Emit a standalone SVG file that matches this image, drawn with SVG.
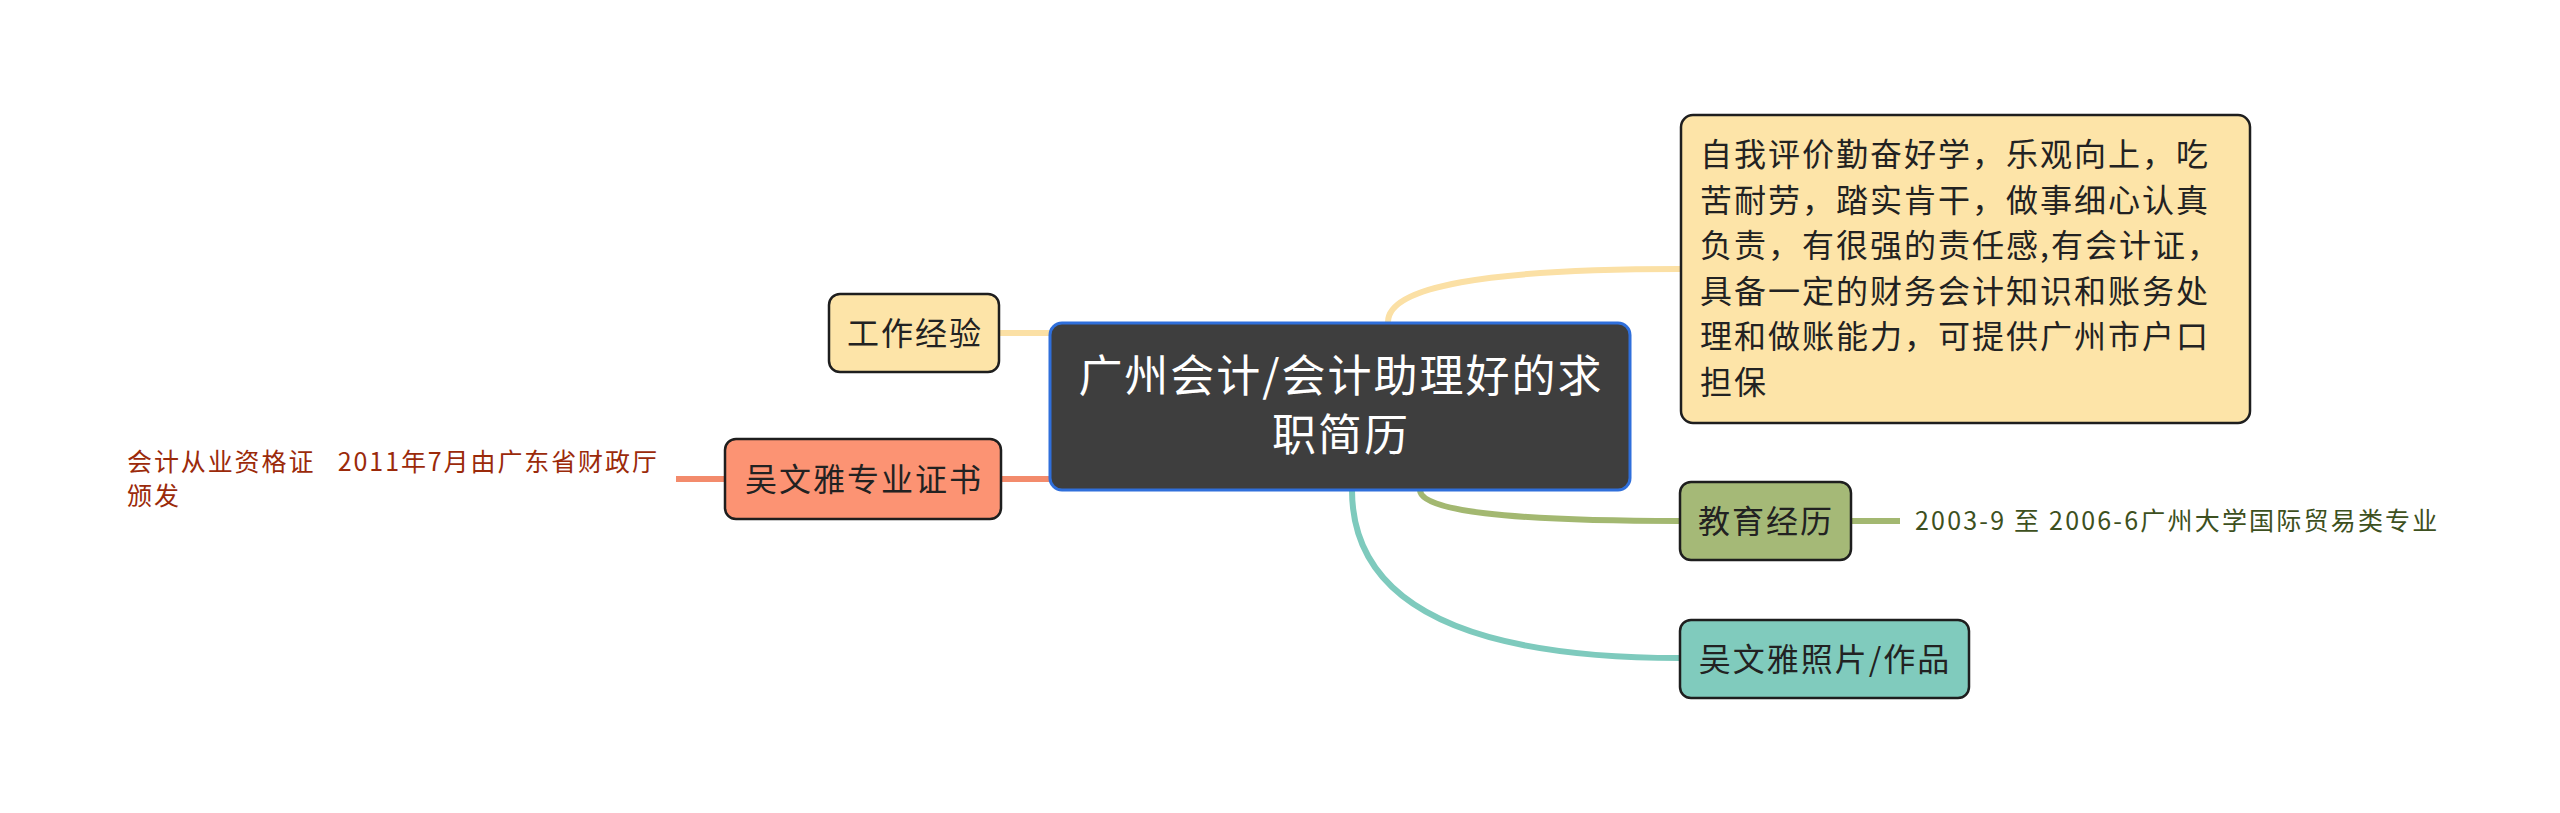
<svg xmlns="http://www.w3.org/2000/svg" width="2560" height="813" viewBox="0 0 2560 813">
<style>
text{font-family:"Noto Sans CJK SC","Noto Sans",sans-serif;}
.node{font-size:32px;letter-spacing:2px;fill:#222222;text-anchor:middle;}
.box{stroke:#1e1e1e;stroke-width:2.5;}
.conn{fill:none;stroke-width:6;stroke-linecap:butt;}
.note{font-size:25px;letter-spacing:1.9px;white-space:pre;}
</style>
<rect width="2560" height="813" fill="#ffffff"/>
<g id="connectors">
<path class="conn" stroke="#fbe0a5" d="M999,333 L1050,333"/>
<path class="conn" stroke="#fbe0a5" d="M1388,322 Q1388,269 1680,269"/>
<path class="conn" stroke="#a3b871" d="M1420,490 Q1420,521 1680,521"/>
<path class="conn" stroke="#7ecabd" d="M1352,490 Q1352,658 1680,658"/>
<path class="conn" stroke="#f38b6c" d="M1001,479 L1050,479"/>
<path class="conn" stroke="#f38b6c" d="M676,479 L725,479"/>
<path class="conn" stroke="#a3b871" d="M1851,521 L1900,521"/>
</g>
<g id="central">
<rect x="1050" y="323" width="580" height="167" rx="12" fill="#3e3e3e" stroke="#2f6fdb" stroke-width="3"/>
<text x="1341" y="392" font-size="44" letter-spacing="2" fill="#ffffff" text-anchor="middle">广州会计/会计助理好的求</text>
<text x="1341" y="451" font-size="44" letter-spacing="2" fill="#ffffff" text-anchor="middle">职简历</text>
</g>
<g id="self-eval">
<rect class="box" x="1681" y="115" width="569" height="308" rx="12" fill="#fde4a8"/>
<text x="1700" font-size="32" letter-spacing="2" fill="#222222">
<tspan x="1700" y="166">自我评价勤奋好学，乐观向上，吃</tspan>
<tspan x="1700" y="211.5">苦耐劳，踏实肯干，做事细心认真</tspan>
<tspan x="1700" y="257">负责，有很强的责任感,有会计证，</tspan>
<tspan x="1700" y="302.5">具备一定的财务会计知识和账务处</tspan>
<tspan x="1700" y="348">理和做账能力，可提供广州市户口</tspan>
<tspan x="1700" y="393.5">担保</tspan>
</text>
</g>
<g id="work">
<rect class="box" x="829" y="294" width="170" height="78" rx="11" fill="#fde4a8"/>
<text class="node" x="915" y="345">工作经验</text>
</g>
<g id="cert">
<rect class="box" x="725" y="439" width="276" height="80" rx="11" fill="#fc9373"/>
<text class="node" x="864" y="491">吴文雅专业证书</text>
</g>
<g id="cert-note">
<text class="note" fill="#9b2a0a" x="127" y="471" xml:space="preserve">会计从业资格证   2011年7月由广东省财政厅</text>
<text class="note" fill="#9b2a0a" x="127" y="505">颁发</text>
</g>
<g id="edu">
<rect class="box" x="1680" y="482" width="171" height="78" rx="11" fill="#a5b977"/>
<text class="node" x="1766" y="533">教育经历</text>
</g>
<g id="edu-note">
<text class="note" fill="#3d5020" x="1915" y="530" style="letter-spacing:2.2px">2003-9 至 2006-6广州大学国际贸易类专业</text>
</g>
<g id="photo">
<rect class="box" x="1680" y="620" width="289" height="78" rx="11" fill="#80cbbd"/>
<text class="node" x="1825" y="671">吴文雅照片/作品</text>
</g>
</svg>
